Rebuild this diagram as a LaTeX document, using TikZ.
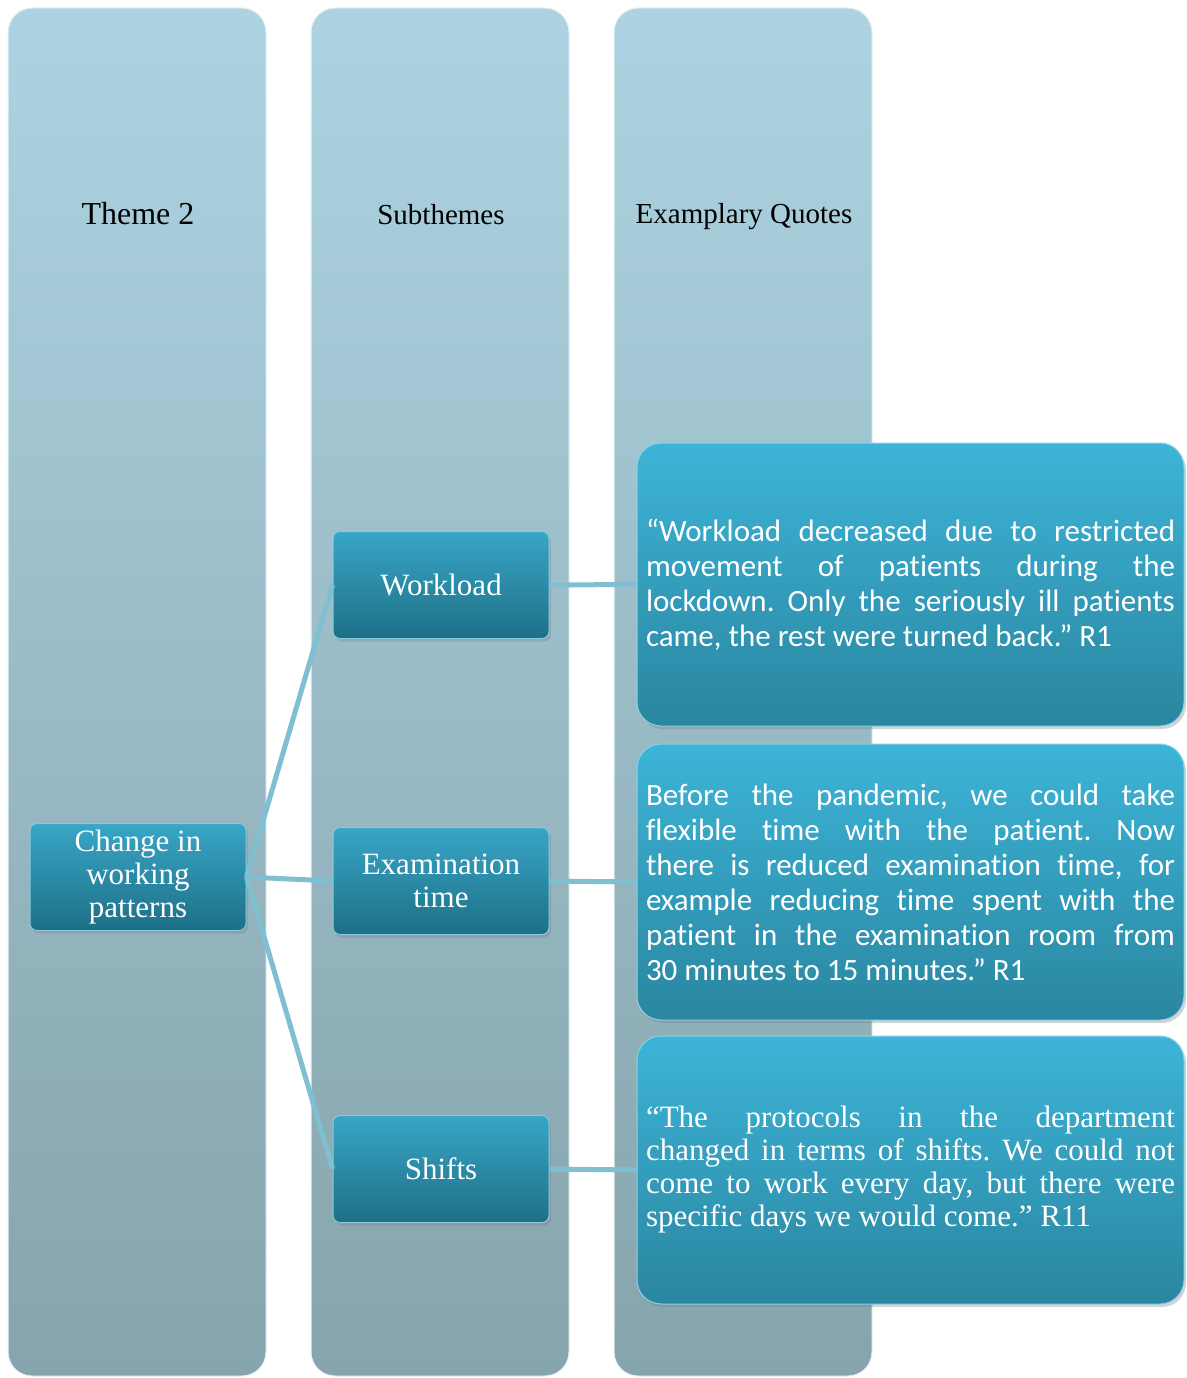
\documentclass[tikz,border=0pt]{standalone}
\usepackage{fontspec}
\setmainfont{Liberation Serif}
\newfontfamily\quotefont[Ligatures=NoCommon]{Carlito}
\usetikzlibrary{positioning,shadows}
\frenchspacing

\definecolor{colTop}{HTML}{ADD3E2}
\definecolor{colBot}{HTML}{86A4AB}
\definecolor{subTop}{HTML}{38A6C6}
\definecolor{subBot}{HTML}{1E6F87}
\definecolor{quoteTop}{HTML}{3DB4D8}
\definecolor{quoteBot}{HTML}{2A86A0}
\definecolor{linkBlue}{HTML}{80BFD2}

\begin{document}
\begin{tikzpicture}[x=1pt,y=-1pt,
        column/.style={rectangle,rounded corners=24pt,top color=colTop,bottom color=colBot,
                       draw=white!70!colTop,line width=1pt,minimum width=258pt,minimum height=1368pt},
        head/.style={font=\fontsize{29}{33}\selectfont,text=black},
        subbox/.style={rectangle,rounded corners=7pt,top color=subTop,bottom color=subBot,
                       draw=subTop!60!white,line width=1pt,minimum width=216pt,minimum height=107pt,
                       text=white,align=center,font=\fontsize{31}{33}\selectfont,
                       drop shadow={shadow xshift=2pt,shadow yshift=-3pt,opacity=.35}},
        quotebox/.style={rectangle,rounded corners=24pt,top color=quoteTop,bottom color=quoteBot,
                         draw=quoteTop!60!white,line width=1pt,minimum width=547pt,
                         text=white,text width=529pt,align=justify,inner xsep=9pt,
                         drop shadow={shadow xshift=2pt,shadow yshift=-3pt,opacity=.35}},
        link/.style={draw=linkBlue,line width=5pt}]
    \useasboundingbox (0,0) rectangle (1186,1378);

    %Columns
    \node (col1) [column] at (137,692) {};
    \node (col2) [column] at (440,692) {};
    \node (col3) [column] at (743,692) {};

    %Headers
    \node (h1) [head,font=\fontsize{32}{35}\selectfont] at (138,214) {Theme 2};
    \node (h2) [head] at (441,215) {Subthemes};
    \node (h3) [head] at (744,217) {Examplary Quotes};

    %Theme and subthemes
    \node (theme) [subbox] at (138,877) {Change in\\working\\patterns};
    \node (work) [subbox] at (441,585) {Workload};
    \node (exam) [subbox] at (441,881) {Examination\\time};
    \node (shift) [subbox] at (441,1169) {Shifts};

    %Quotes
    \node (q1) [quotebox,minimum height=283pt,font=\quotefont\fontsize{31}{35}\selectfont] at (910.5,584.5)
        {“Workload decreased due to restricted\linebreak movement of patients during the\linebreak lockdown. Only the seriously ill patients\linebreak came, the rest were turned back.” R1};
    \node (q2) [quotebox,minimum height=276pt,font=\quotefont\fontsize{31}{35}\selectfont] at (910.5,882)
        {Before the pandemic, we could take\linebreak flexible time with the patient. Now\linebreak there is reduced examination time, for\linebreak example reducing time spent with the\linebreak patient in the examination room from\linebreak 30 minutes to 15 minutes.” R1};
    \node (q3) [quotebox,minimum height=268pt,font=\fontsize{31}{33}\selectfont] at (910.5,1170)
        {“The protocols in the department\linebreak changed in terms of shifts. We could not\linebreak come to work every day, but there were\linebreak specific days we would come.” R11};

    %Lines
    \draw[link] (theme.east) -- (work.west);
    \draw[link] (theme.east) -- (exam.west);
    \draw[link] (theme.east) -- (shift.west);
    \draw[link] (work.east) -- (q1.west);
    \draw[link] (exam.east) -- (q2.west);
    \draw[link] (shift.east) -- (q3.west);
\end{tikzpicture}
\end{document}
